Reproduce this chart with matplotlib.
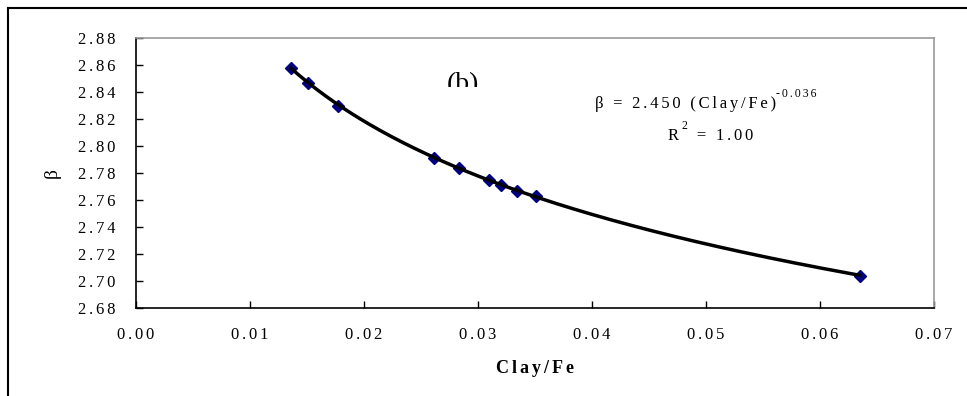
import numpy as np
import matplotlib.pyplot as plt
from matplotlib.lines import Line2D
from matplotlib.transforms import Bbox

# data
clay_fe = [0.0136, 0.0151, 0.0177, 0.0261, 0.0283, 0.0310, 0.0320, 0.0334, 0.0351, 0.0635]
beta = [2.858, 2.847, 2.830, 2.791, 2.784, 2.775, 2.771, 2.767, 2.763, 2.704]
x_ticks = [0.00, 0.01, 0.02, 0.03, 0.04, 0.05, 0.06, 0.07]
y_ticks = [2.68, 2.70, 2.72, 2.74, 2.76, 2.78, 2.80, 2.82, 2.84, 2.86, 2.88]

# power trend line fitted to the points (as Excel does)
b, ln_a = np.polyfit(np.log(clay_fe), np.log(beta), 1)
xf = np.linspace(min(clay_fe), max(clay_fe), 200)
yf = np.exp(ln_a) * xf ** b

SP = '\u2006'  # letter spacing like the old Excel rendering


def spaced(s):
    return SP.join(s)


plt.rcParams.update({'font.family': ['Liberation Serif', 'DejaVu Serif'],
                     'font.size': 12})

W, H = 967, 396
fig = plt.figure(figsize=(W / 100, H / 100), dpi=100)
ax = fig.add_axes([136 / W, 1 - 308 / H, (934 - 136) / W, (308 - 38) / H])

ax.plot(clay_fe, beta, 'D', color='#000080', markersize=6.5, zorder=2)
ax.plot(xf, yf, color='black', lw=2.5, zorder=3)

ax.set_xlim(0, 0.07)
ax.set_ylim(2.68, 2.88)
ax.set_xticks(x_ticks)
ax.set_yticks(y_ticks)
ax.xaxis.set_major_formatter(plt.FuncFormatter(lambda v, p: spaced('%.2f' % v)))
ax.yaxis.set_major_formatter(plt.FuncFormatter(lambda v, p: spaced('%.2f' % v)))
ax.tick_params(axis='y', direction='in', length=5, width=1, pad=15, labelsize=12)
ax.tick_params(axis='x', direction='in', length=5, width=1, pad=14, labelsize=12)
for s in ['top', 'right']:
    ax.spines[s].set_color('#999999')
    ax.spines[s].set_linewidth(1.2)
for s in ['left', 'bottom']:
    ax.spines[s].set_color('black')
    ax.spines[s].set_linewidth(1.2)

ax.set_ylabel('β', fontsize=14, labelpad=12)
ax.set_xlabel(spaced('Clay/Fe'), fontsize=13, fontweight='bold', labelpad=12)

# trend line equation
eq = fig.text(595 / W, 1 - 104 / H, spaced('β = 2.450 (Clay/Fe)'),
              fontsize=12, ha='left', va='center')
ax.annotate(spaced('-0.036'), xy=(1, 0.72), xycoords=eq, fontsize=8.5,
            ha='left', va='bottom')
r = fig.text(668 / W, 1 - 136 / H, 'R', fontsize=12, ha='left', va='center')
r2 = ax.annotate('2', xy=(1, 0.72), xycoords=r, xytext=(2, 0),
                 textcoords='offset points', fontsize=8.5, ha='left', va='bottom')
ax.annotate(spaced(' = 1.00'), xy=(1, 0.5), xycoords=(r2, r), xytext=(2, 0),
            textcoords='offset points', fontsize=12, ha='left', va='center',
            annotation_clip=False)

# panel label, cut off at the bottom like in the original
t = fig.text(463 / W, 1 - 91 / H, '(b)', fontsize=20, ha='center', va='baseline')
t.set_clip_box(Bbox.from_extents(0, H - 87, W, H))
t.set_clip_on(True)

# outer frame (top and left edges visible)
fig.add_artist(Line2D([8 / W, 1], [1 - 8 / H, 1 - 8 / H], color='black', lw=1.5,
                      transform=fig.transFigure))
fig.add_artist(Line2D([8 / W, 8 / W], [0, 1 - 8 / H], color='black', lw=1.5,
                      transform=fig.transFigure))

fig.savefig('out.png', dpi=100)
